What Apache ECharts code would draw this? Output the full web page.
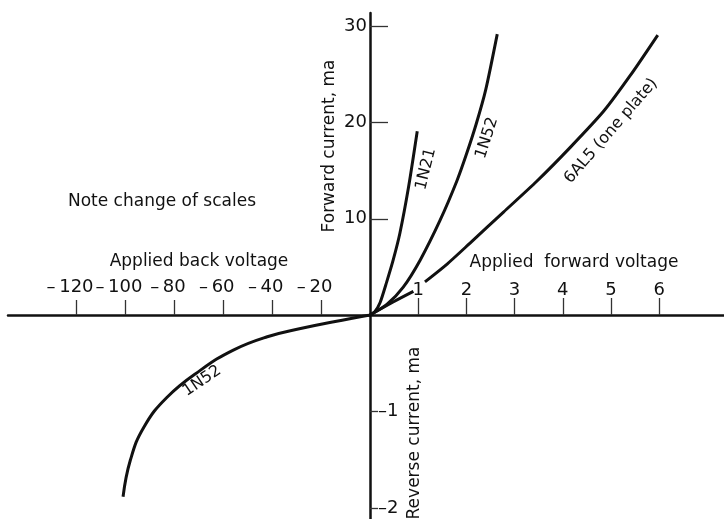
<!DOCTYPE html>
<html>
<head>
<meta charset="utf-8">
<script src="https://cdn.jsdelivr.net/npm/echarts@6/dist/echarts.min.js"></script>
<style>
html,body{margin:0;padding:0;background:#fff;}
#chart{width:724px;height:519px;}
</style>
</head>
<body>
<div id="chart"></div>
<script>
// ---- data ----
const fwdVoltTicks = [1, 2, 3, 4, 5, 6];
const backVoltTicks = [-120, -100, -80, -60, -40, -20];
const fwdCurrentTicks = [10, 20, 30];
const revCurrentTicks = [-1, -2];

// forward characteristics: [volts, mA]
const fwd1N21 = [[0, 0], [0.1, 0.35], [0.21, 1.3], [0.35, 3.5], [0.48, 5.7], [0.62, 8.5], [0.8, 13.3], [0.98, 19.1]];
const fwd1N52 = [[0, 0], [0.35, 1.1], [0.69, 2.9], [1.04, 5.7], [1.45, 9.8], [1.8, 13.9], [2.0, 16.7], [2.2, 19.8], [2.4, 23.4], [2.64, 29.2]];
const fwd6AL5 = [[0, 0], [0.48, 1.35], [0.9, 2.45], [1.0, '-'], [1.14, 3.45], [1.6, 5.3], [2.07, 7.45], [2.77, 10.7], [3.46, 13.9], [4.15, 17.4], [4.85, 21.2], [5.4, 24.9], [5.97, 29.1]];
// reverse characteristic: [volts, mA]
const rev1N52 = [[0, 0], [-14.8, -0.07], [-28.4, -0.14], [-42, -0.225], [-55.7, -0.36], [-69.3, -0.57], [-83, -0.85], [-92.5, -1.16], [-98, -1.5], [-101, -1.88]];

const FONT = 'DejaVu Sans';
const INK = '#111';
const dash = v => '\u2013\u2009' + Math.abs(v);
const dashTight = v => '\u2013' + Math.abs(v);

const chart = echarts.init(document.getElementById('chart'), null, {renderer: 'canvas'});

const axisLine = {show: true, onZero: false, lineStyle: {color: INK, width: 2.5}};
const tickStyle = {color: '#333', width: 1.3};
const curve = {type: 'line', showSymbol: false, smooth: 0.25,
  connectNulls: false, lineStyle: {color: INK, width: 3}};

const option = {
  backgroundColor: '#fff',
  animation: false,
  grid: [
    {left: 370, top: 13, width: 354, height: 302, outerBoundsMode: 'none', containLabel: false},
    {left: 8, top: 315, width: 362, height: 204, outerBoundsMode: 'none', containLabel: false}
  ],
  xAxis: [
    {
      type: 'value', gridIndex: 0, position: 'bottom', min: 0, max: 354 / 48.2,
      axisLine: axisLine,
      axisTick: {show: true, inside: true, length: 17, customValues: fwdVoltTicks, lineStyle: tickStyle},
      axisLabel: {show: true, inside: true, margin: 16, customValues: fwdVoltTicks, hideOverlap: false,
        fontFamily: FONT, fontSize: 18, color: INK},
      splitLine: {show: false}
    },
    {
      type: 'value', gridIndex: 1, position: 'top', min: -362 / 2.445, max: 0,
      axisLine: axisLine,
      axisTick: {show: true, inside: false, length: 15, customValues: backVoltTicks, lineStyle: tickStyle},
      axisLabel: {show: true, margin: 19, customValues: backVoltTicks, hideOverlap: false,
        formatter: dash, padding: [0, 13, 0, 0],
        fontFamily: FONT, fontSize: 18, color: INK},
      splitLine: {show: false}
    }
  ],
  yAxis: [
    {
      type: 'value', gridIndex: 0, position: 'left', min: 0, max: 302 / 9.62,
      axisLine: axisLine,
      axisTick: {show: true, inside: true, length: 18, customValues: fwdCurrentTicks, lineStyle: tickStyle},
      axisLabel: {show: true, margin: 3, customValues: fwdCurrentTicks, hideOverlap: false,
        fontFamily: FONT, fontSize: 18, color: INK},
      splitLine: {show: false}
    },
    {
      type: 'value', gridIndex: 1, position: 'right', min: -204 / 96.7, max: 0,
      axisLine: axisLine,
      axisTick: {show: true, inside: false, length: 8, customValues: revCurrentTicks, lineStyle: tickStyle},
      axisLabel: {show: true, margin: 8, customValues: revCurrentTicks, formatter: dashTight, hideOverlap: false,
        fontFamily: FONT, fontSize: 18, color: INK},
      splitLine: {show: false}
    }
  ],
  series: [
    Object.assign({name: '1N21', xAxisIndex: 0, yAxisIndex: 0, data: fwd1N21}, curve),
    Object.assign({name: '1N52 forward', xAxisIndex: 0, yAxisIndex: 0, data: fwd1N52}, curve),
    Object.assign({name: '6AL5', xAxisIndex: 0, yAxisIndex: 0, data: fwd6AL5}, curve),
    Object.assign({name: '1N52 reverse', xAxisIndex: 1, yAxisIndex: 1, data: rev1N52}, curve, {smooth: 0.45})
  ],
  graphic: [
    {type: 'text', x: 162, y: 202, style: {text: 'Note change of scales', font: '17px "' + FONT + '"', fill: INK, align: 'center', verticalAlign: 'middle'}},
    {type: 'text', x: 199, y: 262, style: {text: 'Applied back voltage', font: '17px "' + FONT + '"', fill: INK, align: 'center', verticalAlign: 'middle'}},
    {type: 'text', x: 574, y: 263, style: {text: 'Applied  forward voltage', font: '17px "' + FONT + '"', fill: INK, align: 'center', verticalAlign: 'middle'}},
    {type: 'text', x: 330, y: 146, rotation: Math.PI / 2, style: {text: 'Forward current, ma', font: '17px "' + FONT + '"', fill: INK, align: 'center', verticalAlign: 'middle'}},
    {type: 'text', x: 415, y: 433, rotation: Math.PI / 2, style: {text: 'Reverse current, ma', font: '17px "' + FONT + '"', fill: INK, align: 'center', verticalAlign: 'middle'}},
    {type: 'text', x: 426, y: 169, rotation: 76 * Math.PI / 180, style: {text: '1N21', font: '16px "' + FONT + '"', fill: INK, align: 'center', verticalAlign: 'middle'}},
    {type: 'text', x: 487, y: 138, rotation: 72 * Math.PI / 180, style: {text: '1N52', font: '16px "' + FONT + '"', fill: INK, align: 'center', verticalAlign: 'middle'}},
    {type: 'text', x: 611, y: 131, rotation: 49 * Math.PI / 180, style: {text: '6AL5 (one plate)', font: '16px "' + FONT + '"', fill: INK, align: 'center', verticalAlign: 'middle'}},
    {type: 'text', x: 202, y: 381, rotation: 34 * Math.PI / 180, style: {text: '1N52', font: '16px "' + FONT + '"', fill: INK, align: 'center', verticalAlign: 'middle'}}
  ]
};
chart.setOption(option);
</script>
</body>
</html>
